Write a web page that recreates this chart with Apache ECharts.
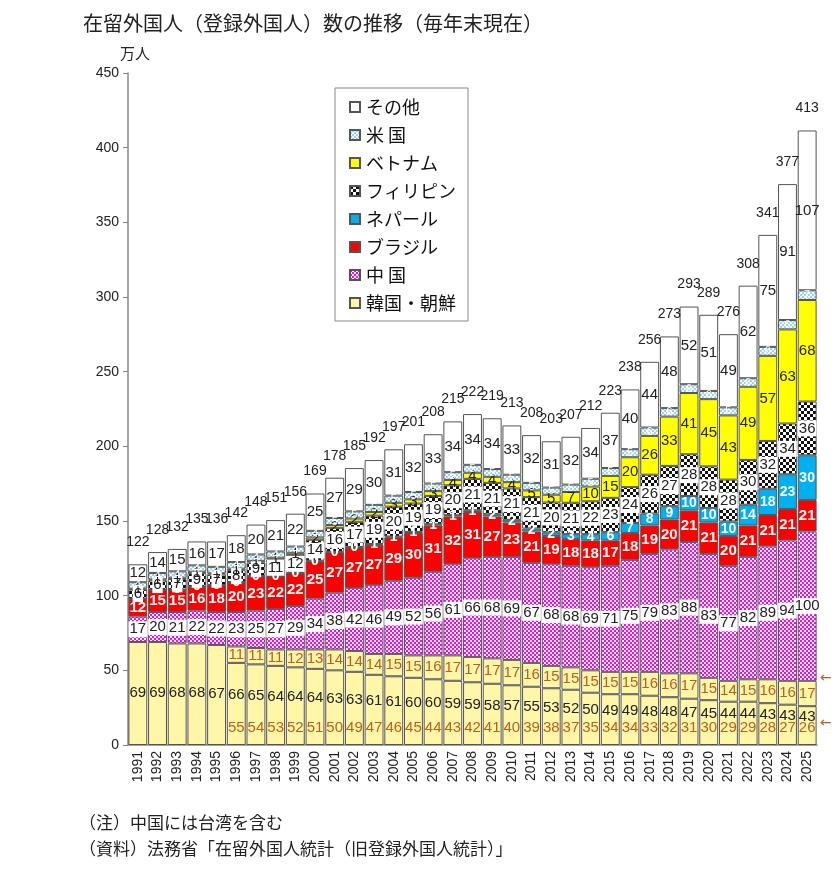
<!DOCTYPE html>
<html>
<head>
<meta charset="utf-8">
<script src="https://cdn.jsdelivr.net/npm/echarts@6/dist/echarts.min.js"></script>
<style>
html, body { margin: 0; padding: 0; background: #fff; }
#main { width: 833px; height: 869px; }
</style>
</head>
<body>
<div id="main"></div>
<script>
var years = ['1991','1992','1993','1994','1995','1996','1997','1998','1999','2000',
             '2001','2002','2003','2004','2005','2006','2007','2008','2009','2010',
             '2011','2012','2013','2014','2015','2016','2017','2018','2019','2020',
             '2021','2022','2023','2024','2025'];
var totals = [122,128,132,135,136,142,148,151,156,169,178,185,192,197,201,208,215,222,219,213,
              208,203,207,212,223,238,256,273,293,289,276,308,341,377,413];
var koreaTotal = [69,69,68,68,67,66,65,64,64,64,63,63,61,61,60,60,59,59,58,57,
                  55,53,52,50,49,49,48,48,47,45,44,44,43,43,43];
// 1991-1995 are not split; from 1996 the bar is split in two parts
var koreaLower = [69,69,68,68,67,55,54,53,52,51,50,49,47,46,45,44,43,42,41,40,
                  39,38,37,35,34,34,33,32,31,30,29,29,28,27,26];
var koreaUpper = [null,null,null,null,null,11,11,11,12,13,14,14,14,15,15,16,17,17,17,17,
                  16,15,15,15,15,15,16,16,17,15,14,15,16,16,17];
var china = [17,20,21,22,22,23,25,27,29,34,38,42,46,49,52,56,61,66,68,69,
             67,68,68,69,71,75,79,83,88,83,77,82,89,94,100];
var brazil = [12,15,15,16,18,20,23,22,22,25,27,27,27,29,30,31,32,31,27,23,
              21,19,18,18,17,18,19,20,21,21,20,21,21,21,21];
var nepal = [0.1,0.1,0.1,0.1,0.1,0.1,0.2,0.2,0.3,0.4,0.4,0.45,0.6,0.6,0.7,0.8,0.9,1.2,1.5,1.8,
             2.0,2.4,3.2,4.2,5.5,6.7,8.0,8.9,9.7,9.6,9.7,13.9,17.6,23.3,30];
var philippines = [6,6,7,9,7,8,9,11,12,14,16,17,19,20,19,19,20,21,21,21,
                   21,20,21,22,23,24,26,27,28,28,28,30,32,34,36];
var vietnam = [0.6,0.8,0.9,0.9,0.9,1.0,1.1,1.2,1.4,1.6,1.9,2.2,2.4,2.6,2.8,3.2,3.6,4.1,4.1,4.2,
               4.5,5.2,7.2,9.9,14.7,20,26,33,41,45,43,49,57,63,68];
var usa = [4.3,4.3,4.3,4.3,4.3,4.4,4.3,4.2,4.2,4.4,4.7,4.8,4.8,4.8,4.9,5.1,5.2,5.3,5.2,5.0,
           5.0,4.8,5.0,5.2,5.3,5.4,5.6,5.7,5.9,5.5,5.4,5.7,6.0,6.3,6.5];
var other = [12,14,15,16,17,18,20,21,22,25,27,29,30,31,32,33,34,34,34,33,
             32,31,32,34,37,40,44,48,52,51,49,62,75,91,107];
var legendNames = ['その他','米 国','ベトナム','フィリピン','ネパール','ブラジル','中 国','韓国・朝鮮'];

function pattern(bg, fg, kind) {
    var c = document.createElement('canvas');
    var s = kind === 'check' ? 6 : 4;
    c.width = s; c.height = s;
    var g = c.getContext('2d');
    g.fillStyle = bg;
    g.fillRect(0, 0, s, s);
    g.fillStyle = fg;
    if (kind === 'check') {
        g.fillRect(0, 0, 3, 3);
        g.fillRect(3, 3, 3, 3);
    } else if (kind === 'square') {
        g.fillRect(0, 0, 2, 2);
        g.fillRect(2, 2, 2, 2);
    } else {
        g.beginPath(); g.arc(1, 1, 1.1, 0, Math.PI * 2); g.fill();
        g.beginPath(); g.arc(3, 3, 1.1, 0, Math.PI * 2); g.fill();
    }
    return { image: c, repeat: 'repeat' };
}

var numFont = 'Liberation Sans';
var jpFont = 'Noto Sans CJK JP';
var orange = '#b8601c';
var border = '#555';

function segLabel(color, extra) {
    var l = {
        show: true, position: 'inside', color: color, fontSize: 15, fontFamily: numFont,
        formatter: function (p) { return p.value == null ? '' : Math.round(p.value); }
    };
    for (var k in extra) l[k] = extra[k];
    return l;
}

function bar(name, data, color, label) {
    return {
        name: name, type: 'bar', stack: 'all', data: data,
        barCategoryGap: '4%', barGap: '-100%',
        itemStyle: { color: color, borderColor: border, borderWidth: 1 },
        label: label
    };
}

var chart = echarts.init(document.getElementById('main'));

var option = {
    backgroundColor: '#fff',
    animation: false,
    title: [
        { text: '在留外国人（登録外国人）数の推移（毎年末現在）', left: 78, top: 8,
          textStyle: { fontSize: 20, fontWeight: 'normal', color: '#222', fontFamily: jpFont } },
        { text: '万人', left: 115, top: 41,
          textStyle: { fontSize: 15, fontWeight: 'normal', color: '#222', fontFamily: jpFont } },
        { text: '（注）中国には台湾を含む', left: 74, top: 809,
          textStyle: { fontSize: 17, fontWeight: 'normal', color: '#222', fontFamily: jpFont } },
        { text: '（資料）法務省「在留外国人統計（旧登録外国人統計）」', left: 74, top: 835,
          textStyle: { fontSize: 17, fontWeight: 'normal', color: '#222', fontFamily: jpFont } }
    ],
    legend: {
        data: legendNames, orient: 'vertical', left: 335, top: 88,
        padding: [10, 12, 9, 14], itemGap: 10, itemWidth: 10, itemHeight: 10,
        selectedMode: false, borderColor: '#888', borderWidth: 1, backgroundColor: '#fff',
        icon: 'rect',
        textStyle: { fontSize: 18, color: '#111', fontFamily: jpFont, lineHeight: 17, padding: [0, 0, 0, 1] }
    },
    grid: { left: 128, right: 16, top: 73, bottom: 124 },
    xAxis: {
        type: 'category', data: years,
        axisLine: { lineStyle: { color: '#888', width: 1.5 } },
        axisTick: { show: false },
        axisLabel: { rotate: 90, interval: 0, fontSize: 14, color: '#222', fontFamily: numFont, margin: 6 }
    },
    yAxis: {
        type: 'value', min: 0, max: 450, interval: 50,
        axisLine: { show: true, lineStyle: { color: '#888', width: 1.5 } },
        axisTick: { show: true, length: 5, lineStyle: { color: '#888' } },
        splitLine: { show: false },
        axisLabel: { fontSize: 14, color: '#222', fontFamily: numFont, margin: 9 }
    },
    series: [
        bar('韓国・朝鮮', koreaLower.map(function (v, i) {
            return { value: v, label: { offset: [0, i >= 5 ? -9 : -1] } };
        }), '#fff6a8', segLabel('#222', {
            formatter: function (p) { return koreaTotal[p.dataIndex]; }
        })),
        bar('韓国・朝鮮（その他）', koreaUpper, '#fff6a8', segLabel(orange, {})),
        bar('中 国', china, pattern('#ffffff', '#ff00ff', 'square'),
            segLabel('#222', { backgroundColor: '#fff', padding: [1, 1, 0, 1] })),
        bar('ブラジル', brazil, '#ff0000', segLabel('#fff', { fontWeight: 'bold' })),
        bar('ネパール', nepal, '#00b0f0', segLabel('#fff', { fontWeight: 'bold', fontSize: 14 })),
        bar('フィリピン', philippines, pattern('#ffffff', '#111111', 'check'),
            segLabel('#222', { backgroundColor: '#fff', padding: [1, 1, 0, 1] })),
        bar('ベトナム', vietnam, '#ffff00', segLabel('#222', {})),
        bar('米 国', usa, pattern('#9fd2e6', '#ffffff', 'dot'), segLabel('#fff', { fontSize: 11 })),
        bar('その他', other, '#ffffff', segLabel('#222', {})),
        {
            name: '合計', type: 'bar', stack: 'all', barCategoryGap: '4%', barGap: '-100%',
            data: years.map(function () { return 0; }),
            itemStyle: { color: 'transparent', borderWidth: 0 },
            label: {
                show: true, position: 'top', distance: 15, fontSize: 14, color: '#222', fontFamily: numFont,
                formatter: function (p) { return totals[p.dataIndex]; }
            }
        },
        {
            name: '韓国・朝鮮（内訳）', type: 'bar', stack: 'overlay', barCategoryGap: '4%', barGap: '-100%',
            data: koreaLower.map(function (v, i) { return i >= 5 ? v : null; }),
            itemStyle: { color: 'transparent', borderWidth: 0 },
            label: {
                show: true, position: 'insideBottom', distance: 10, fontSize: 15, color: orange, fontFamily: numFont,
                formatter: function (p) { return p.value == null ? '' : p.value; }
            }
        }
    ]
};

chart.setOption(option);

// arrows at the right edge pointing to the split of the 2025 Korea bar
var last = years.length - 1;
var yTop = chart.convertToPixel({ gridIndex: 0 }, [last, koreaLower[last] + koreaUpper[last]])[1];
var yLow = chart.convertToPixel({ gridIndex: 0 }, [last, koreaLower[last] / 2])[1];
chart.setOption({
    graphic: [
        { type: 'text', left: 820, top: yTop - 9, style: { text: '←', fill: orange, fontSize: 14, fontFamily: 'DejaVu Sans' } },
        { type: 'text', left: 820, top: yLow - 9, style: { text: '←', fill: orange, fontSize: 14, fontFamily: 'DejaVu Sans' } }
    ]
});
</script>
</body>
</html>
